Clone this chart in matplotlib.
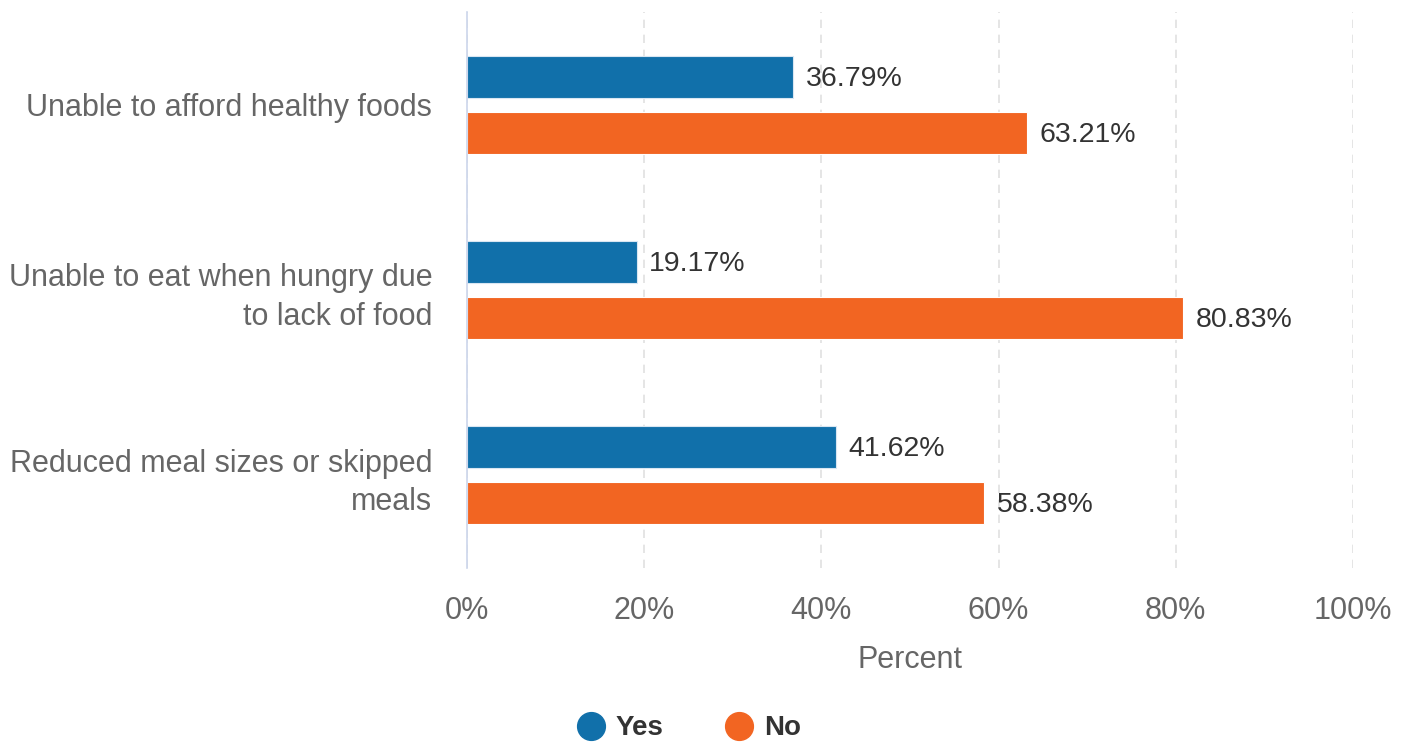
import matplotlib
matplotlib.use("Agg")
import matplotlib.pyplot as plt
from matplotlib.lines import Line2D
import numpy as np

categories = ["Unable to afford healthy foods",
              "Unable to eat when hungry due\nto lack of food",
              "Reduced meal sizes or skipped\nmeals"]
yes_vals = [36.79, 19.17, 41.62]
no_vals = [63.21, 80.83, 58.38]
series_names = ["Yes", "No"]
xticks = [0, 20, 40, 60, 80, 100]
xtick_labels = ["0%", "20%", "40%", "60%", "80%", "100%"]

BLUE = "#1170aa"
ORANGE = "#f26522"

plt.rcParams['font.family'] = ['Liberation Sans', 'DejaVu Sans']

fig = plt.figure(figsize=(14.09, 7.44), dpi=100)
ax = fig.add_axes([0.3314, 0.2366, 0.6288, 0.7473])

y = np.arange(len(categories))
off = 0.151
h = 0.227
ax.barh(y - off, yes_vals, height=h, color=BLUE, edgecolor="#d9e6f2", linewidth=0.8, zorder=3)
ax.barh(y + off, no_vals, height=h, color=ORANGE, edgecolor="#ffffff", linewidth=0.8, zorder=3)

for yi, v in zip(y - off, yes_vals):
    ax.annotate(f"{v:.2f}%", (v, yi), xytext=(9, -1.5), textcoords="offset points",
                va="center", ha="left", fontsize=20.5, color="#333333")
for yi, v in zip(y + off, no_vals):
    ax.annotate(f"{v:.2f}%", (v, yi), xytext=(9, -1.5), textcoords="offset points",
                va="center", ha="left", fontsize=20.5, color="#333333")

ax.set_xlim(0, 100)
ax.set_ylim(2.5, -0.5)
ax.set_xticks(xticks)
ax.set_xticklabels(xtick_labels)
ax.set_yticks(y)
ax.set_yticklabels(categories)
ax.tick_params(axis="x", length=0, pad=20, labelsize=22, labelcolor="#666666")
ax.tick_params(axis="y", length=0, pad=25, labelsize=22, labelcolor="#666666")
for lab in ax.get_yticklabels():
    lab.set_horizontalalignment("right")
    lab.set_multialignment("right")
    lab.set_linespacing(1.35)

ax.grid(axis="x", color="#e0e0e0", linestyle=(0, (5, 4)), linewidth=1.2, zorder=0)
ax.grid(axis="y", visible=False)
for s in ["top", "right", "bottom"]:
    ax.spines[s].set_visible(False)
ax.spines["left"].set_color("#ccd6eb")
ax.spines["left"].set_linewidth(1.2)
ax.spines["left"].set_zorder(4)

ax.set_xlabel("Percent", fontsize=22, color="#666666", labelpad=14)

handles = [Line2D([0], [0], marker="o", color="none", markerfacecolor=c, markeredgecolor=c,
                  markersize=20) for c in (BLUE, ORANGE)]
leg = fig.legend(handles, series_names, loc="center", bbox_to_anchor=(0.488, 0.021),
                 ncol=2, frameon=False, handletextpad=0.3, columnspacing=2.1,
                 prop={"size": 20, "weight": "bold"}, handlelength=1.2,
                 borderpad=0.1)
for t in leg.get_texts():
    t.set_color("#333333")

fig.savefig("out.png", dpi=100)
